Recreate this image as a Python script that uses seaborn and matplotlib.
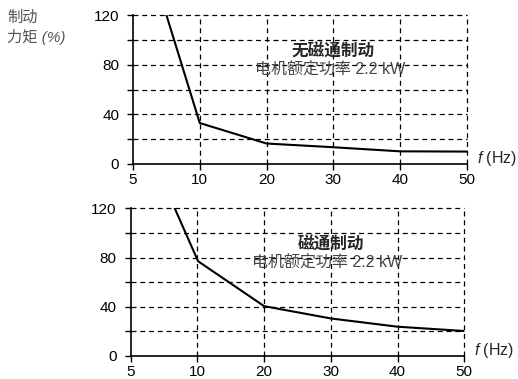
import numpy as np
import pandas as pd
import matplotlib
matplotlib.use("Agg")
import matplotlib.pyplot as plt
import seaborn as sns

# ---- data ----
freq_ticks = [5, 10, 20, 30, 40, 50]
y_major = [0, 40, 80, 120]
y_minor = [20, 60, 100]

f_top = [7.5, 10, 20, 30, 40, 50]
t_top = [120, 33, 16.5, 13.5, 10.2, 10]
f_bot = [8.3, 10.1, 20, 30, 40, 50]
t_bot = [120, 77, 40.5, 30.5, 23.8, 20.3]

title_top = "无磁通制动"
title_bot = "磁通制动"
subtitle = "电机额定功率 2.2 kW"
ylabel = "制动\n力矩 (%)"

sns.set_style("ticks")
plt.rcParams['font.family'] = ['Liberation Sans', 'Noto Sans CJK SC', 'DejaVu Sans']
plt.rcParams['mathtext.fontset'] = 'custom'
plt.rcParams['mathtext.it'] = 'Liberation Sans:italic'
plt.rcParams['mathtext.rm'] = 'Liberation Sans'

fig = plt.figure(figsize=(5.18, 3.79), dpi=100)
ax1 = fig.add_axes([0.2568, 0.5673, 0.9010 - 0.2568, 0.9604 - 0.5673])
ax2 = fig.add_axes([0.2523, 0.0607, 0.8963 - 0.2523, 0.4504 - 0.0607])


def style(ax, f, t, title):
    ax.set_xscale('function', functions=(
        lambda x: np.interp(x, freq_ticks, np.arange(len(freq_ticks))),
        lambda p: np.interp(p, np.arange(len(freq_ticks)), freq_ticks)))
    df = pd.DataFrame({"f": f, "t": t})
    sns.lineplot(data=df, x="f", y="t", ax=ax, color="black", lw=1.5)
    ax.set_xlim(5, 50)
    ax.set_ylim(0, 120)
    ax.set_xticks(freq_ticks)
    ax.set_xticklabels([str(v) for v in freq_ticks])
    ax.xaxis.set_minor_locator(matplotlib.ticker.NullLocator())
    ax.set_yticks(y_major)
    ax.set_yticks(y_minor, minor=True)
    ax.set_yticklabels([str(v) for v in y_major])
    ax.tick_params(axis='both', which='both', direction='out', length=4, width=1,
                   labelsize=11, colors='black')
    ax.tick_params(axis='y', which='major', pad=6)
    ax.tick_params(axis='x', which='major', pad=2.5)
    for y in y_major[1:] + y_minor:
        ax.axhline(y, color='black', lw=0.9, ls=(0, (4, 3)), zorder=0, clip_on=False)
    for x in freq_ticks[1:]:
        ax.axvline(x, color='black', lw=0.9, ls=(0, (4, 3)), zorder=0, clip_on=False)
    for s in ['top', 'right']:
        ax.spines[s].set_visible(False)
    for s in ['left', 'bottom']:
        ax.spines[s].set_linewidth(1.2)
        ax.spines[s].set_color('black')
    ax.set_xlabel("")
    ax.set_ylabel("")
    ax.text(1.03, 0.04, "$f$ (Hz)", transform=ax.transAxes, ha='left', va='center',
            fontsize=11.5)
    ax.text(0.6, 0.755, title, transform=ax.transAxes, ha='center', va='center',
            fontsize=12, fontweight='bold')
    ax.text(0.59, 0.63, subtitle, transform=ax.transAxes, ha='center', va='center',
            fontsize=11.5, color='#444444')

style(ax1, f_top, t_top, title_top)
style(ax2, f_bot, t_bot, title_bot)

fig.text(0.014, 0.972, ylabel, ha='left', va='top', fontsize=11, color='#555555',
         fontstyle='italic', linespacing=1.3)

fig.savefig("out.png", dpi=100)
